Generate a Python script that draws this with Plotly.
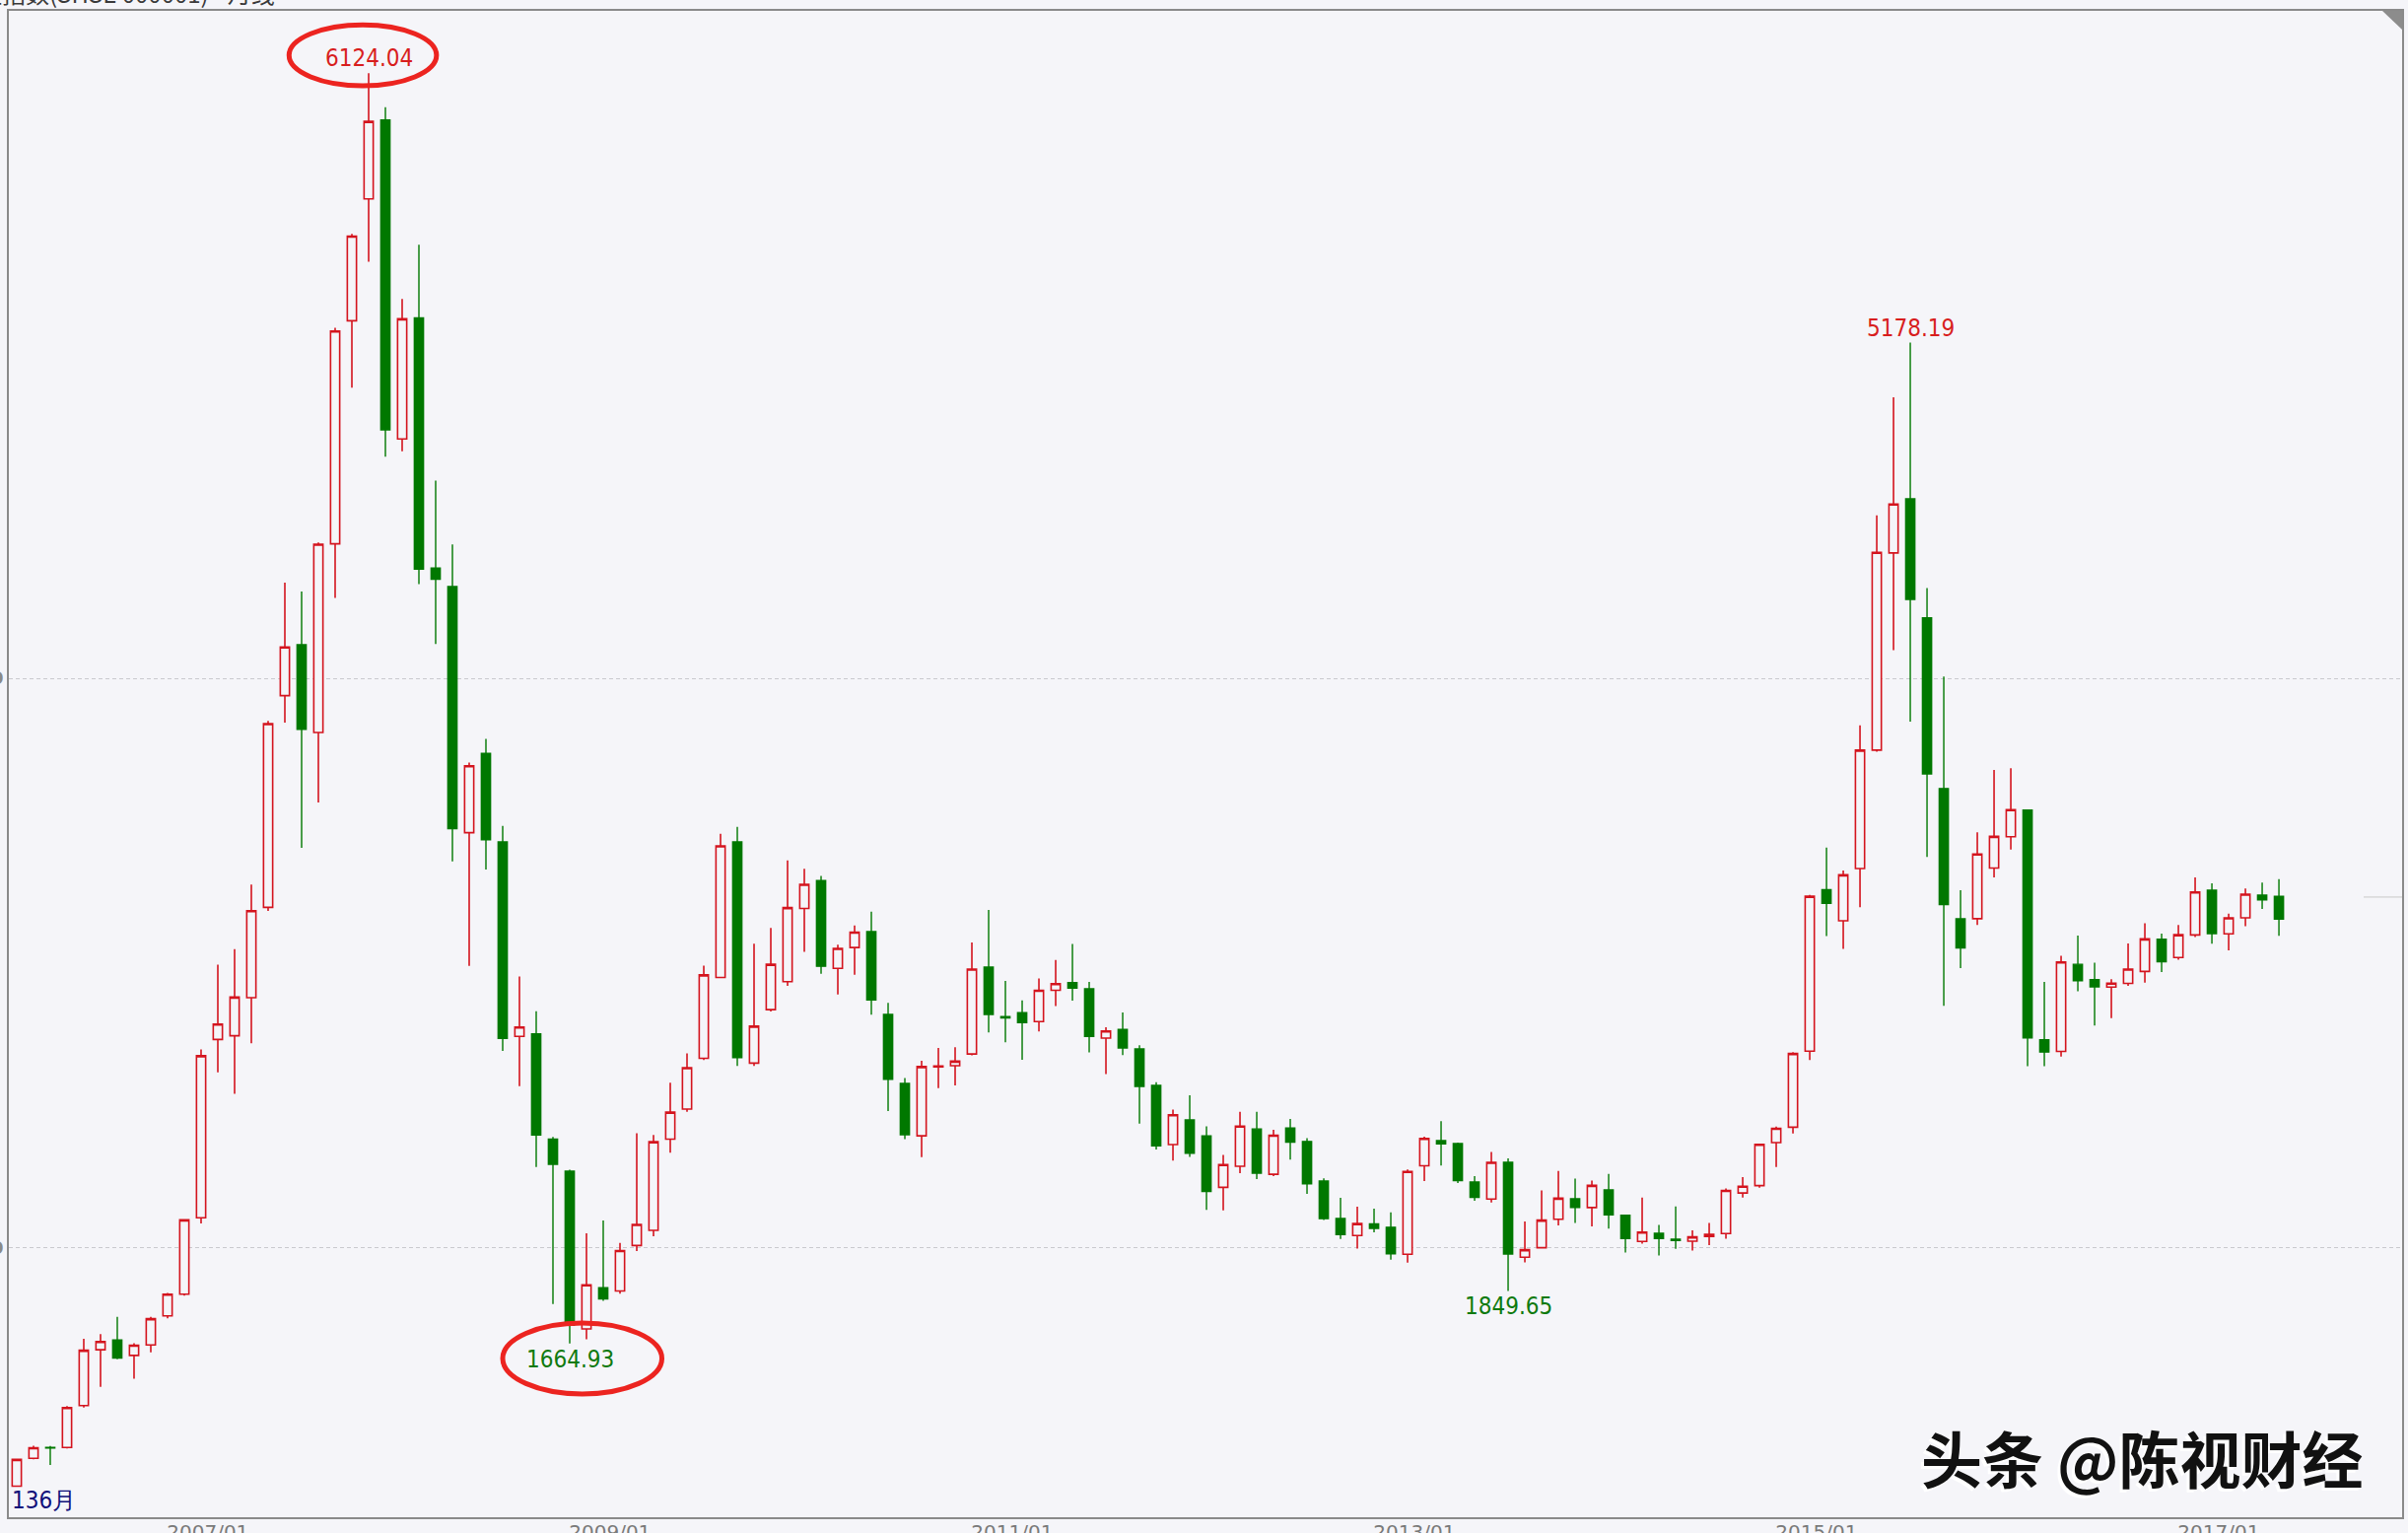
import pandas as pd
import plotly.graph_objects as go

# monthly candles, 上证指数 2006/01 - 2017/04 (136 months)
opens = [1164, 1262, 1300, 1300, 1447, 1643, 1677, 1623, 1660, 1762, 1838, 2106,
         2732, 2745, 2879, 3196, 3939, 4118, 3810, 4472, 5255, 5683, 5960, 4840,
         5265, 4387, 4322, 3458, 3736, 3426, 2743, 2752, 2382, 2270, 1716, 1861,
         1849, 2009, 2062, 2382, 2488, 2666, 2950, 3426, 2649, 2837, 2935, 3192,
         3290, 2982, 3055, 3111, 2820, 2578, 2394, 2636, 2640, 2681, 2986, 2812,
         2826, 2795, 2905, 2932, 2910, 2737, 2767, 2699, 2571, 2363, 2450, 2394,
         2213, 2287, 2418, 2259, 2421, 2374, 2235, 2104, 2044, 2085, 2073, 1978,
         2289, 2377, 2367, 2232, 2172, 2301, 1968, 2001, 2101, 2173, 2142, 2204,
         2115, 2023, 2052, 2031, 2024, 2041, 2051, 2193, 2219, 2370, 2424, 2691,
         3258, 3149, 3332, 3748, 4440, 4630, 4212, 3613, 3156, 3156, 3334, 3444,
         3537, 2731, 2690, 2996, 2942, 2916, 2929, 2971, 3084, 3020, 3099, 3256,
         3103, 3159, 3239, 3235]
highs = [1260, 1306, 1305, 1445, 1681, 1698, 1758, 1666, 1758, 1842, 2102, 2697,
         2995, 3049, 3276, 3850, 4336, 4305, 4477, 5230, 5560, 6124.04, 6005, 5332,
         5522, 4694, 4470, 3704, 3787, 3482, 2953, 2831, 2390, 2275, 2052, 2097,
         2018, 2403, 2397, 2580, 2683, 2991, 3454, 3478, 3068, 3124, 3361, 3331,
         3306, 3065, 3132, 3181, 2861, 2597, 2657, 2702, 2705, 3073, 3187, 2938,
         2869, 2946, 3011, 3067, 2934, 2775, 2827, 2712, 2582, 2486, 2536, 2427,
         2327, 2478, 2478, 2415, 2453, 2386, 2245, 2176, 2145, 2138, 2125, 2276,
         2391, 2445, 2370, 2252, 2337, 2315, 2093, 2202, 2271, 2244, 2237, 2260,
         2116, 2177, 2081, 2146, 2062, 2088, 2209, 2249, 2367, 2426, 2688, 3240,
         3406, 3325, 3835, 4572, 4986, 5178.19, 4317, 4006, 3256, 3459, 3678, 3684,
         3538, 2934, 3026, 3097, 3002, 2944, 3069, 3140, 3104, 3134, 3301, 3280,
         3174, 3262, 3283, 3295]
lows = [1161, 1258, 1238, 1296, 1440, 1513, 1610, 1541, 1634, 1753, 1833, 2086,
        2617, 2541, 2719, 3183, 3844, 3405, 3564, 4282, 5020, 5462, 4778, 4797,
        4331, 4120, 3357, 2990, 3329, 2692, 2568, 2284, 1803, 1664.93, 1680, 1815,
        1840, 1989, 2041, 2335, 2478, 2660, 2950, 2639, 2639, 2830, 2920, 3040,
        2963, 2890, 2959, 2819, 2481, 2382, 2319, 2561, 2571, 2676, 2757, 2722,
        2661, 2760, 2849, 2868, 2687, 2611, 2677, 2437, 2346, 2307, 2320, 2134,
        2132, 2263, 2242, 2252, 2310, 2190, 2098, 2032, 1998, 2055, 1959, 1949,
        2235, 2290, 2228, 2166, 2160, 1849.65, 1950, 1998, 2079, 2088, 2076, 2068,
        1984, 2015, 1974, 1997, 1991, 2010, 2033, 2177, 2212, 2284, 2402, 2660,
        3095, 3050, 3196, 3742, 4099, 3848, 3373, 2850, 2983, 3134, 3301, 3399,
        2638, 2638, 2672, 2901, 2781, 2807, 2920, 2932, 2969, 3012, 3092, 3068,
        3045, 3130, 3190, 3096]
closes = [1258, 1299, 1298, 1440, 1641, 1672, 1614, 1659, 1752, 1838, 2099, 2675,
          2786, 2881, 3184, 3841, 4110, 3821, 4471, 5219, 5552, 5955, 4872, 5262,
          4383, 4348, 3472, 3693, 3433, 2736, 2776, 2397, 2294, 1729, 1871, 1821,
          1991, 2083, 2373, 2477, 2633, 2959, 3412, 2668, 2779, 2996, 3195, 3277,
          2989, 3052, 3109, 2871, 2592, 2398, 2637, 2639, 2656, 2979, 2820, 2808,
          2791, 2905, 2928, 2912, 2743, 2762, 2702, 2567, 2359, 2468, 2333, 2199,
          2293, 2428, 2263, 2396, 2372, 2225, 2103, 2047, 2086, 2069, 1980, 2269,
          2385, 2366, 2237, 2178, 2301, 1979, 1994, 2098, 2175, 2142, 2220, 2116,
          2033, 2056, 2033, 2026, 2039, 2048, 2202, 2217, 2364, 2420, 2683, 3235,
          3210, 3310, 3748, 4442, 4612, 4277, 3664, 3206, 3053, 3383, 3445, 3539,
          2738, 2688, 3004, 2938, 2917, 2930, 2979, 3085, 3005, 3100, 3250, 3104,
          3159, 3242, 3222, 3155]

months = list(pd.date_range('2006-01-01', periods=len(closes), freq='MS').strftime('%Y/%m'))
tick_labels = ['2007/01', '2009/01', '2011/01', '2013/01', '2015/01', '2017/01']
grid_values = [2000, 4000]

# marked extremes: (month, value, colour, above?)
marks = [('2007/10', '6124.04', '#d81e1e', True),
         ('2008/10', '1664.93', '#0f7a0f', False),
         ('2015/06', '5178.19', '#d81e1e', True),
         ('2013/06', '1849.65', '#0f7a0f', False)]

RED = '#d4141e'
GREEN = '#007800'
BG = '#f5f5f9'
NARROW = 'Liberation Sans Narrow, DejaVu Sans Condensed'
W, H = 2443, 1555
L, R, T, B = 9, 6, 11, 16
pw, ph = W - L - R, H - T - B


def px_x(p):
    return (p - L) / pw


def px_y(p):
    return (H - B - p) / ph


x = list(range(len(closes)))

fig = go.Figure(go.Candlestick(
    x=x, open=opens, high=highs, low=lows, close=closes,
    increasing=dict(line=dict(color=RED, width=1.6), fillcolor=BG),
    decreasing=dict(line=dict(color=GREEN, width=1.4), fillcolor=GREEN),
    whiskerwidth=0,
    hoverinfo='y+text', text=months,
))

for m, label, colour, above in marks:
    i = months.index(m)
    fig.add_annotation(x=i, y=float(label), text=label, showarrow=False,
                       font=dict(family=NARROW, size=24, color=colour),
                       yanchor='middle', yshift=15 if above else -16)

# red ellipses around the two extremes
fig.add_shape(type='circle', xref='x', yref='y', x0=16.25, x1=25.05, y0=6080, y1=6294,
              line=dict(color='#ec2420', width=5))
fig.add_shape(type='circle', xref='x', yref='y', x0=29.0, x1=38.5, y0=1488, y1=1737,
              line=dict(color='#ec2420', width=5))

# last price marker at right edge
fig.add_shape(type='line', xref='paper', yref='y', x0=px_x(2398), x1=1, y0=3232, y1=3232,
              line=dict(color='#c8c8c8', width=1))
# small corner triangle
fig.add_shape(type='path', xref='paper', yref='paper',
              path=f'M {px_x(2417)} {px_y(11)} L {px_x(2437)} {px_y(11)} L {px_x(2437)} {px_y(30)} Z',
              fillcolor='#8c8c8c', line=dict(width=0))

fig.add_annotation(xref='paper', yref='paper', x=px_x(10), y=px_y(1522), text='136月',
                   showarrow=False, xanchor='left', yanchor='middle',
                   font=dict(family=NARROW, size=24, color='#10107a'))

# chart caption, clipped by the top edge as in the screenshot
fig.add_annotation(xref='paper', yref='paper', x=px_x(-48), y=1.0, text='上证指数(SHSE 000001) - 月线',
                   showarrow=False, xanchor='left', yanchor='bottom', yshift=-1,
                   font=dict(family='Noto Sans CJK SC', size=24, color='#3a3a3a'))

# watermark: white offset copy underneath black text
for dx, dy, col in [(-3, -3, '#ffffff'), (0, 0, '#111111')]:
    fig.add_annotation(xref='paper', yref='paper', x=px_x(2400), y=px_y(1478), text='头条 @陈视财经',
                       showarrow=False, xanchor='right', yanchor='middle', xshift=dx, yshift=dy,
                       font=dict(family='Noto Sans CJK SC', size=62, color=col, weight='bold'))

fig.update_layout(
    width=W, height=H,
    margin=dict(l=L, r=R, t=T, b=B),
    paper_bgcolor=BG, plot_bgcolor=BG,
    showlegend=False,
    boxgap=0.22,
    xaxis=dict(
        range=[-0.47, 142.35], rangeslider=dict(visible=False), automargin=False,
        tickvals=[months.index(t) - 0.6 for t in tick_labels], ticktext=tick_labels,
        showgrid=False, zeroline=False, ticks='',
        showline=True, linecolor='#8a8a8a', linewidth=1.5, mirror=True,
        tickfont=dict(family='DejaVu Sans', size=20, color='#7a7a7a'),
        ticklabelstandoff=-4,
    ),
    yaxis=dict(
        range=[1055, 6343], automargin=False,
        tickvals=grid_values, ticktext=[str(v) for v in grid_values],
        showgrid=True, gridcolor='#c9c9cf', griddash='4px,3px', gridwidth=1,
        zeroline=False, ticks='',
        showline=True, linecolor='#8a8a8a', linewidth=1.5, mirror=True,
        tickfont=dict(family='DejaVu Sans', size=18, color='#8a8a8a', weight='bold'),
    ),
)

# drop the page's default body margin so the figure sits at the window origin
fig.write_html("out.html", config={'displayModeBar': False},
               post_script="document.body.style.margin='0';document.body.style.overflow='hidden';")
